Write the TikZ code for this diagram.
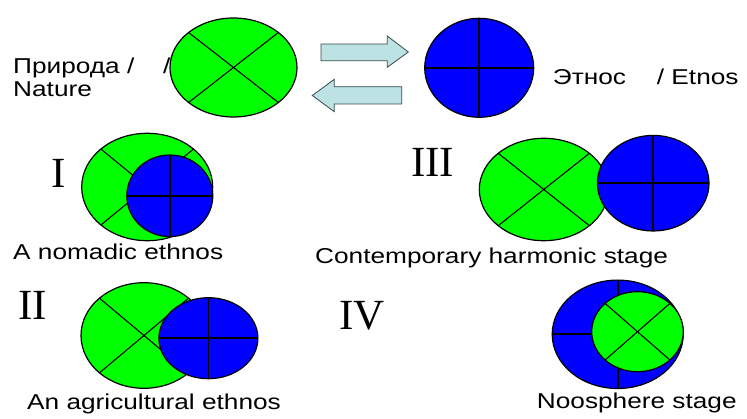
\documentclass[tikz,border=0pt]{standalone}
\usepackage{fontspec}
\usetikzlibrary{shapes.geometric}
\newfontfamily\sansf{Liberation Sans}
\newfontfamily\serff{Liberation Serif}
\definecolor{grn}{HTML}{00FF00}
\definecolor{blu}{HTML}{0000FF}
\definecolor{arrfill}{HTML}{BCE2E3}
\definecolor{arrline}{HTML}{3A4A4A}
\newcommand{\sx}[1]{\scalebox{1.22}[1]{#1}}
\tikzset{
  ell/.style={ellipse, draw=black, line width=1.2pt, inner sep=0pt, outer sep=0pt},
  gell/.style={ell, fill=grn},
  bell/.style={ell, fill=blu},
  cross/.style={draw=black, line width=1.1pt},
  bcross/.style={draw=black, line width=1.8pt},
  txt/.style={inner sep=0pt, anchor=base west, font=\sansf\fontsize{21.5}{24}\selectfont},
  num/.style={inner sep=0pt, anchor=base west, font=\serff\fontsize{43}{46}\selectfont},
  bigarrow/.style={fill=arrfill, draw=arrline, line width=0.8pt, line join=miter}
}
\begin{document}
\begin{tikzpicture}[x=1pt, y=-1pt]
\useasboundingbox (0,0) rectangle (747,419);
% top row
\node[txt] (t1) at (13,74) {\sx{Природа /}};
\node[txt] (t1b) at (163,74) {\sx{/}};
\node[txt] (t2) at (13,97) {\sx{Nature}};
\node[gell, minimum width=127pt, minimum height=99pt] (g0) at (233.5,67.5) {};
\draw[cross] (g0.north west) -- (g0.south east) (g0.north east) -- (g0.south west);
\node[bell, minimum width=109pt, minimum height=99pt] (b0) at (479.2,67.8) {};
\draw[bcross] (b0.north) -- (b0.south);
\draw[bcross] (b0.west) -- (b0.east);
\node[txt] (t3) at (552.7,85) {\sx{Этнос}};
\node[txt] (t4) at (656.7,85) {\sx{/ Etnos}};
\draw[bigarrow] (321,44) -- (387.3,44) -- (387.3,36) -- (408.3,52) -- (387.3,67.3) -- (387.3,60.7) -- (321,60.7) -- cycle;
\draw[bigarrow] (401.7,86.7) -- (334.3,86.7) -- (334.3,79.3) -- (312.3,95.5) -- (334.3,111.7) -- (334.3,104) -- (401.7,104) -- cycle;
% stage I
\node[num] (n1) at (51,187.7) {I};
\node[gell, minimum width=131pt, minimum height=107.4pt] (g1) at (147.2,187) {};
\draw[cross] (g1.north west) -- (g1.south east) (g1.north east) -- (g1.south west);
\node[bell, minimum width=86pt, minimum height=81.6pt] (b1) at (169.8,195.8) {};
\draw[bcross] (b1.north) -- (b1.south);
\draw[bcross] (b1.west) -- (b1.east);
\node[txt] (l1) at (13,259.3) {\sx{A nomadic ethnos}};
% stage III
\node[num] (n3) at (411,176.7) {III};
\node[gell, minimum width=129pt, minimum height=102.4pt] (g3) at (543.8,189.5) {};
\draw[cross] (g3.north west) -- (g3.south east) (g3.north east) -- (g3.south west);
\node[bell, minimum width=111.6pt, minimum height=95.6pt] (b3) at (653.2,183.2) {};
\draw[bcross] (b3.north) -- (b3.south);
\draw[bcross] (b3.west) -- (b3.east);
\node[txt] (l3) at (315,264) {\sx{Contemporary harmonic stage}};
% stage II
\node[num] (n2) at (18,319.3) {II};
\node[gell, minimum width=126pt, minimum height=105.6pt] (g2) at (144,335.5) {};
\draw[cross] (g2.north west) -- (g2.south east) (g2.north east) -- (g2.south west);
\node[bell, minimum width=99pt, minimum height=81pt] (b2) at (208.4,338.2) {};
\draw[bcross] (b2.north) -- (b2.south);
\draw[bcross] (b2.west) -- (b2.east);
\node[txt] (l2) at (27,409.3) {\sx{An agricultural ethnos}};
% stage IV
\node[num] (n4) at (339.3,329.3) {IV};
\node[bell, minimum width=131pt, minimum height=108.4pt] (b4) at (617.7,334.3) {};
\draw[bcross] (b4.north) -- (b4.south);
\draw[bcross] (b4.west) -- (b4.east);
\node[gell, minimum width=91.6pt, minimum height=80pt] (g4) at (637.5,331.7) {};
\draw[cross] (g4.north west) -- (g4.south east) (g4.north east) -- (g4.south west);
\node[txt] (l4) at (536.7,409) {\sx{Noosphere stage}};
\end{tikzpicture}
\end{document}
